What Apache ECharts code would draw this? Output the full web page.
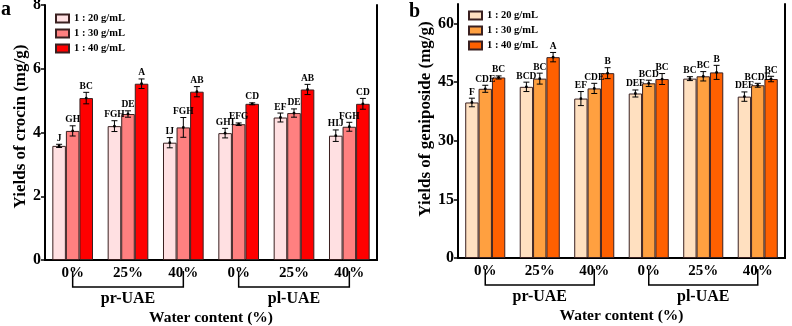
<!DOCTYPE html>
<html>
<head>
<meta charset="utf-8">
<script src="https://cdn.jsdelivr.net/npm/echarts@6/dist/echarts.min.js"></script>
<style>
  body { margin: 0; background: #fff; }
  #chart { width: 792px; height: 326px; }
</style>
</head>
<body>
<div id="chart"></div>
<script>
// categories
const waterContent = ['0%', '25%', '40%', '0%', '25%', '40%'];
const methodGroups = ['pr-UAE', 'pl-UAE'];
const methodRanges = [[0, 2], [3, 5]];
const ratioNames = ['1 : 20 g/mL', '1 : 30 g/mL', '1 : 40 g/mL'];

// a - crocin (mg/g)
const crocin20 = [3.58, 4.20, 3.68, 3.98, 4.47, 3.90];
const crocin30 = [4.05, 4.58, 4.16, 4.26, 4.61, 4.18];
const crocin40 = [5.08, 5.53, 5.28, 4.90, 5.35, 4.90];
const crocinErr20 = [0.05, 0.17, 0.16, 0.15, 0.14, 0.18];
const crocinErr30 = [0.16, 0.10, 0.31, 0.04, 0.13, 0.14];
const crocinErr40 = [0.18, 0.15, 0.16, 0.03, 0.16, 0.17];
const crocinSig20 = ['J', 'FGH', 'IJ', 'GHI', 'EF', 'HIJ'];
const crocinSig30 = ['GH', 'DE', 'FGH', 'EFG', 'DE', 'FGH'];
const crocinSig40 = ['BC', 'A', 'AB', 'CD', 'AB', 'CD'];
const crocinTicks = { min: 0, max: 8, interval: 2 };

// b - geniposide (mg/g)
const genip20 = [39.8, 43.8, 40.8, 42.1, 45.9, 41.3];
const genip30 = [43.3, 45.9, 43.4, 44.7, 46.5, 44.2];
const genip40 = [46.2, 51.4, 47.3, 45.8, 47.5, 45.8];
const genipErr20 = [1.1, 1.2, 1.8, 0.9, 0.5, 1.2];
const genipErr30 = [0.9, 1.4, 1.3, 0.8, 1.2, 0.5];
const genipErr40 = [0.4, 1.2, 1.4, 1.4, 1.8, 0.7];
const genipSig20 = ['F', 'BCD', 'EF', 'DEF', 'BC', 'DEF'];
const genipSig30 = ['CDE', 'BC', 'CDE', 'BCD', 'BC', 'BCDE'];
const genipSig40 = ['BC', 'A', 'B', 'BC', 'B', 'BC'];
const genipTicks = { min: 0, max: 65, interval: 15 };

const FONT = "'Liberation Serif', 'DejaVu Serif', serif";
const BAR_FRAC = 0.245;
const redColors = ['#ffe0e2', '#ff8080', '#ff0000'];
const orangeColors = ['#ffe0c0', '#ffa040', '#ff6000'];

function barSeries(name, data, color, g) {
  return {
    name: name, type: 'bar', xAxisIndex: g, yAxisIndex: g,
    data: data, barWidth: (BAR_FRAC * 100) + '%', barGap: '0%',
    itemStyle: { color: color, borderColor: '#3a2020', borderWidth: 1 },
    silent: true
  };
}

// error bar + significance letter, offset to sit on bar k of the group
function errSeries(means, errs, letters, k, g) {
  return {
    type: 'custom', xAxisIndex: g, yAxisIndex: g, z: 5, silent: true,
    data: means.map((m, i) => [i, m, errs[i]]),
    renderItem: function (params, api) {
      const i = api.value(0), m = api.value(1), e = api.value(2);
      const cw = api.size([1, 0])[0];
      const x = api.coord([i, m])[0] + (k - 1) * cw * BAR_FRAC;
      const yHi = api.coord([i, m + e])[1];
      const yLo = api.coord([i, m - e])[1];
      const yM = api.coord([i, m])[1];
      const cap = 3;
      const st = { stroke: '#000', lineWidth: 1 };
      return {
        type: 'group',
        children: [
          { type: 'line', shape: { x1: x, y1: yHi, x2: x, y2: yLo }, style: st },
          { type: 'line', shape: { x1: x - cap, y1: yHi, x2: x + cap, y2: yHi }, style: st },
          { type: 'line', shape: { x1: x - cap, y1: yLo, x2: x + cap, y2: yLo }, style: st },
          { type: 'circle', shape: { cx: x, cy: yM, r: 1.4 }, style: { fill: '#000' } },
          {
            type: 'text', x: x, y: yHi - 1,
            style: {
              text: letters[params.dataIndex], fill: '#000', align: 'center', verticalAlign: 'bottom',
              font: 'bold 9.5px ' + FONT
            }
          }
        ]
      };
    }
  };
}

// bracket under the x labels grouping pr-UAE / pl-UAE
function bracketSeries(g) {
  return {
    type: 'custom', xAxisIndex: g, yAxisIndex: g, silent: true, clip: false,
    data: methodRanges.map(r => [r[0], 0, r[1]]),
    renderItem: function (params, api) {
      const p0 = api.coord([api.value(0), 0]);
      const x1 = api.coord([api.value(2), 0])[0];
      const x0 = p0[0], y0 = p0[1];
      return {
        type: 'group',
        children: [
          {
            type: 'polyline',
            shape: { points: [[x0, y0 + 11], [x0, y0 + 27], [x1, y0 + 27], [x1, y0 + 11]] },
            style: { stroke: '#000', lineWidth: 1.5, fill: null }
          },
          {
            type: 'text', x: (x0 + x1) / 2, y: y0 + 39,
            style: {
              text: methodGroups[params.dataIndex], fill: '#000', align: 'center', verticalAlign: 'middle',
              font: 'bold 16px ' + FONT
            }
          }
        ]
      };
    }
  };
}

function xAxisFor(g) {
  return {
    type: 'category', gridIndex: g, data: waterContent,
    axisLine: { lineStyle: { color: '#000', width: 2 } },
    axisTick: { alignWithLabel: true, length: 3, lineStyle: { color: '#000', width: 1.5 } },
    axisLabel: { color: '#000', fontFamily: FONT, fontWeight: 'bold', fontSize: 15, margin: 6 },
    name: 'Water content (%)', nameLocation: 'middle', nameGap: 50,
    nameTextStyle: { color: '#000', fontFamily: FONT, fontWeight: 'bold', fontSize: 15.5 }
  };
}

function yAxisFor(g, ticks, title, gap, pad) {
  return {
    type: 'value', gridIndex: g, min: ticks.min, max: ticks.max, interval: ticks.interval,
    splitLine: { show: false },
    axisLine: { show: true, lineStyle: { color: '#000', width: 2 } },
    axisTick: { show: true, length: 4, lineStyle: { color: '#000', width: 1.5 } },
    axisLabel: { color: '#000', fontFamily: FONT, fontWeight: 'bold', fontSize: 16, margin: 4, showMaxLabel: ticks.max % ticks.interval === 0 },
    name: title, nameLocation: 'middle', nameGap: gap,
    nameTextStyle: { color: '#000', fontFamily: FONT, fontWeight: 'bold', fontSize: 17, padding: pad }
  };
}

// plain lines closing the frame on top and right
function frameX(g) {
  return {
    type: 'category', gridIndex: g, position: 'top', data: waterContent,
    axisLine: { lineStyle: { color: '#000', width: 2 } },
    axisTick: { show: false }, axisLabel: { show: false }
  };
}
function frameY(g, ticks) {
  return {
    type: 'value', gridIndex: g, position: 'right', min: ticks.min, max: ticks.max,
    splitLine: { show: false },
    axisLine: { show: true, lineStyle: { color: '#000', width: 2 } },
    axisTick: { show: false }, axisLabel: { show: false }
  };
}

function legendFor(names, left, top) {
  return {
    data: names, orient: 'vertical', left: left, top: top, padding: 0,
    itemWidth: 13, itemHeight: 8, itemGap: 4, icon: 'rect', selectedMode: false,
    formatter: n => n.replace(/^[ab]-/, ''),
    textStyle: { color: '#000', fontFamily: FONT, fontWeight: 'bold', fontSize: 10.5 }
  };
}

const aNames = ratioNames.map(n => 'a-' + n);
const bNames = ratioNames.map(n => 'b-' + n);

const chart = echarts.init(document.getElementById('chart'));
chart.setOption({
  animation: false,
  grid: [
    { left: 45, right: 415, top: 5, bottom: 66, outerBoundsMode: 'none' },
    { left: 458, right: 7, top: 4, bottom: 68, outerBoundsMode: 'none' }
  ],
  xAxis: [xAxisFor(0), xAxisFor(1), frameX(0), frameX(1)],
  yAxis: [
    yAxisFor(0, crocinTicks, 'Yields of crocin (mg/g)', 16, [0, 0, 0, 12]),
    yAxisFor(1, genipTicks, 'Yields of geniposide (mg/g)', 17, [0, 0, 0, 24]),
    frameY(0, crocinTicks), frameY(1, genipTicks)
  ],
  legend: [legendFor(aNames, 55, 13), legendFor(bNames, 468, 10)],
  graphic: [
    { type: 'text', left: 1, top: 0, style: { text: 'a', font: 'bold 20px ' + FONT, fill: '#000' } },
    { type: 'text', left: 409, top: 2, style: { text: 'b', font: 'bold 20px ' + FONT, fill: '#000' } }
  ],
  series: [
    barSeries(aNames[0], crocin20, redColors[0], 0),
    barSeries(aNames[1], crocin30, redColors[1], 0),
    barSeries(aNames[2], crocin40, redColors[2], 0),
    errSeries(crocin20, crocinErr20, crocinSig20, 0, 0),
    errSeries(crocin30, crocinErr30, crocinSig30, 1, 0),
    errSeries(crocin40, crocinErr40, crocinSig40, 2, 0),
    bracketSeries(0),
    barSeries(bNames[0], genip20, orangeColors[0], 1),
    barSeries(bNames[1], genip30, orangeColors[1], 1),
    barSeries(bNames[2], genip40, orangeColors[2], 1),
    errSeries(genip20, genipErr20, genipSig20, 0, 1),
    errSeries(genip30, genipErr30, genipSig30, 1, 1),
    errSeries(genip40, genipErr40, genipSig40, 2, 1),
    bracketSeries(1)
  ]
});
</script>
</body>
</html>
